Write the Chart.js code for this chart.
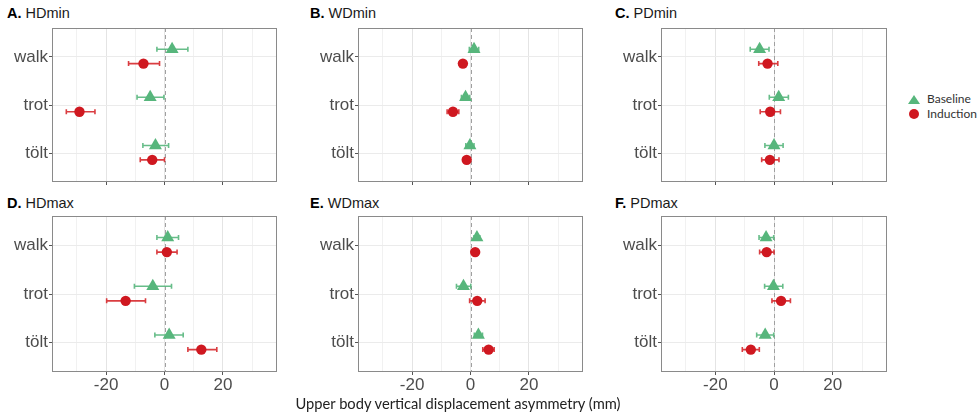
<!DOCTYPE html>
<html lang="en">
<head>
  <meta charset="UTF-8" />
  <title>Upper body vertical displacement asymmetry</title>
  <script src="https://cdn.jsdelivr.net/npm/chart.js"></script>
  <style>
    * { margin: 0; padding: 0; box-sizing: border-box; }
    body { width: 980px; height: 413px; background: #fff; position: relative; overflow: hidden;
           font-family: "Liberation Sans", Arial, sans-serif; }
    .panel-title { position: absolute; font-size: 14.5px; line-height: 14px; color: #1a1a1a; white-space: nowrap; }
    .panel-title b { color: #000; }
    .chart-box { position: absolute; }
    .x-title { position: absolute; left: 458px; top: 396px; transform: translateX(-50%);
               font-family: Lato, "Open Sans", sans-serif; font-size: 14.7px; line-height: 15px; color: #222; white-space: nowrap; }
    .legend { position: absolute; left: 906px; top: 92px; font-family: Lato, "Open Sans", sans-serif;
              font-size: 12px; color: #333; }
    .legend div { height: 14.5px; line-height: 14.5px; position: relative; padding-left: 21px; }
    .tri { position: absolute; left: 2px; top: 3px; width: 0; height: 0;
           border-left: 6px solid transparent; border-right: 6px solid transparent; border-bottom: 9px solid #57b67c; }
    .dot { position: absolute; left: 3px; top: 2.5px; width: 10px; height: 10px; border-radius: 50%; background: #cf1820; }
  </style>
</head>
<body>
  <div class="panel-title" style="left:7px;top:6px"><b>A.</b> HDmin</div>
  <div class="panel-title" style="left:310px;top:6px"><b>B.</b> WDmin</div>
  <div class="panel-title" style="left:615px;top:6px"><b>C.</b> PDmin</div>
  <div class="panel-title" style="left:7px;top:196px"><b>D.</b> HDmax</div>
  <div class="panel-title" style="left:310px;top:196px"><b>E.</b> WDmax</div>
  <div class="panel-title" style="left:615px;top:196px"><b>F.</b> PDmax</div>

  <div id="charts"></div>

  <div class="legend">
    <div><span class="tri"></span>Baseline</div>
    <div><span class="dot"></span>Induction</div>
  </div>
  <div class="x-title">Upper body vertical displacement asymmetry (mm)</div>

  <script>
    // gaits on the y axis, top to bottom
    const gaits = ['walk', 'trot', 'tölt'];
    const xGridValues = [-30, -20, -10, 0, 10, 20, 30];
    const xTickLabels = [-20, 0, 20];

    // [mean, lower, upper] per gait (mm)
    const HDmin_baseline  = [[2.6, -2.6, 8.0], [-4.9, -9.4, -0.2], [-3.1, -7.4, 1.4]];
    const HDmin_induction = [[-7.2, -12.3, -1.7], [-29.1, -33.6, -23.8], [-4.2, -8.3, 0.0]];
    const WDmin_baseline  = [[1.2, -0.4, 2.8], [-1.7, -3.1, -0.3], [-0.2, -1.6, 1.2]];
    const WDmin_induction = [[-2.6, -3.7, -1.5], [-6.0, -8.0, -4.0], [-1.3, -2.5, -0.1]];
    const PDmin_baseline  = [[-4.9, -8.1, -1.7], [1.6, -1.6, 4.9], [0.0, -3.1, 3.1]];
    const PDmin_induction = [[-2.2, -5.2, 1.3], [-1.3, -4.7, 2.2], [-1.4, -4.2, 1.7]];
    const HDmax_baseline  = [[1.1, -2.6, 4.8], [-4.0, -10.3, 2.4], [1.6, -3.3, 6.4]];
    const HDmax_induction = [[0.8, -2.6, 4.3], [-13.3, -19.8, -6.5], [12.6, 8.0, 17.9]];
    const WDmax_baseline  = [[2.2, 1.2, 3.2], [-2.4, -4.8, 0.1], [2.7, 1.3, 4.1]];
    const WDmax_induction = [[1.6, 0.9, 2.3], [2.3, -0.3, 5.0], [6.2, 4.2, 8.1]];
    const PDmax_baseline  = [[-2.7, -5.1, -0.1], [-0.2, -3.2, 3.0], [-3.0, -5.9, -0.1]];
    const PDmax_induction = [[-2.5, -4.9, 0.0], [2.4, -0.7, 5.6], [-7.9, -10.8, -5.0]];

    const GREEN = '#57b67c', RED = '#cf1820';
    const X_MIN = -38.5, X_MAX = 38.5;
    const YW = 50, XH = 24, PT = 2, PR = 2;   // axis gutters around each plot area
    const TICK_FONT = { family: '"Liberation Sans Narrow", "Liberation Sans", Arial, sans-serif', size: 17 };

    // plot rectangles [left, top, right, bottom]
    const panels = [
      { base: HDmin_baseline, ind: HDmin_induction, rect: [52, 28, 277, 182], labels: false },
      { base: WDmin_baseline, ind: WDmin_induction, rect: [358, 28, 583, 182], labels: false },
      { base: PDmin_baseline, ind: PDmin_induction, rect: [661, 28, 887, 182], labels: false },
      { base: HDmax_baseline, ind: HDmax_induction, rect: [52, 216, 277, 372], labels: true },
      { base: WDmax_baseline, ind: WDmax_induction, rect: [358, 216, 583, 372], labels: true },
      { base: PDmax_baseline, ind: PDmax_induction, rect: [661, 216, 887, 372], labels: true }
    ];

    // keep Chart.js from reserving room for edge labels
    function noPadding(s) {
      s.paddingTop = 0; s.paddingBottom = 0; s.paddingLeft = 0; s.paddingRight = 0;
    }

    // zero reference, error bars and panel frame
    const forestPlugin = {
      id: 'forest',
      beforeDatasetsDraw(chart) {
        const { ctx, chartArea: a, scales: { x, y } } = chart;
        ctx.save();
        ctx.strokeStyle = '#a0a0a0';
        ctx.lineWidth = 1;
        ctx.setLineDash([4, 3]);
        const x0 = Math.round(x.getPixelForValue(0)) + 0.5;
        ctx.beginPath(); ctx.moveTo(x0, a.top); ctx.lineTo(x0, a.bottom); ctx.stroke();
        ctx.setLineDash([]);
        chart.data.datasets.forEach(ds => {
          ctx.strokeStyle = ds.barColor;
          ctx.lineWidth = 1.6;
          ds.data.forEach(p => {
            const py = y.getPixelForValue(p.y);
            const l = x.getPixelForValue(p.lo), r = x.getPixelForValue(p.hi);
            ctx.beginPath();
            ctx.moveTo(l, py); ctx.lineTo(r, py);
            ctx.moveTo(l, py - 2.5); ctx.lineTo(l, py + 2.5);
            ctx.moveTo(r, py - 2.5); ctx.lineTo(r, py + 2.5);
            ctx.stroke();
          });
        });
        ctx.restore();
      },
      afterDraw(chart) {
        const { ctx, chartArea: a } = chart;
        ctx.save();
        ctx.strokeStyle = '#8a8a8a';
        ctx.lineWidth = 1;
        ctx.strokeRect(a.left + 0.5, a.top + 0.5, a.right - a.left - 1, a.bottom - a.top - 1);
        ctx.restore();
      }
    };

    function toPoints(rows, shift) {
      return rows.map((r, i) => ({ x: r[0], y: i + 1 + shift, lo: r[1], hi: r[2] }));
    }

    const holder = document.getElementById('charts');
    panels.forEach(p => {
      const [l, t, r, b] = p.rect;
      const w = YW + (r - l) + PR, h = PT + (b - t) + XH;
      const box = document.createElement('div');
      box.className = 'chart-box';
      box.style.left = (l - YW) + 'px';
      box.style.top = (t - PT) + 'px';
      const canvas = document.createElement('canvas');
      canvas.width = w; canvas.height = h;
      box.appendChild(canvas);
      holder.appendChild(box);

      new Chart(canvas, {
        type: 'scatter',
        data: {
          datasets: [
            { label: 'Baseline', data: toPoints(p.base, -0.16), barColor: 'rgba(87,182,124,0.9)',
              pointStyle: 'triangle', pointRadius: 7.5, pointBorderWidth: 0,
              backgroundColor: GREEN, borderColor: GREEN },
            { label: 'Induction', data: toPoints(p.ind, 0.14), barColor: 'rgba(214,40,44,0.9)',
              pointStyle: 'circle', pointRadius: 5.2, pointBorderWidth: 0,
              backgroundColor: RED, borderColor: RED }
          ]
        },
        options: {
          responsive: false,
          animation: false,
          layout: { autoPadding: false, padding: { top: PT, right: PR, left: 0, bottom: 0 } },
          plugins: { legend: { display: false }, tooltip: { enabled: false } },
          scales: {
            x: {
              type: 'linear', min: X_MIN, max: X_MAX,
              afterBuildTicks: s => { s.ticks = xGridValues.map(v => ({ value: v })); },
              afterFit: s => { s.height = XH; noPadding(s); },
              border: { display: false },
              grid: {
                color: c => (c.tick && c.tick.value % 20 === 0) ? '#e4e4e4' : '#f1f1f1',
                tickColor: c => (c.tick && c.tick.value % 20 === 0) ? '#555' : 'rgba(0,0,0,0)',
                tickLength: 3, lineWidth: 1
              },
              ticks: {
                autoSkip: false, maxRotation: 0, padding: 0, color: '#4d4d4d', font: TICK_FONT,
                callback: v => (p.labels && xTickLabels.includes(v)) ? String(v) : ''
              }
            },
            y: {
              type: 'linear', reverse: true, min: 0.4, max: 3.6,
              afterBuildTicks: s => { s.ticks = gaits.map((g, i) => ({ value: i + 1 })); },
              afterFit: s => { s.width = YW; noPadding(s); },
              border: { display: false },
              grid: { color: '#ebebeb', tickColor: '#555', tickLength: 3, lineWidth: 1 },
              ticks: { padding: 1, color: '#4d4d4d', font: TICK_FONT, callback: v => gaits[v - 1] }
            }
          }
        },
        plugins: [forestPlugin]
      });
    });
  </script>
</body>
</html>
